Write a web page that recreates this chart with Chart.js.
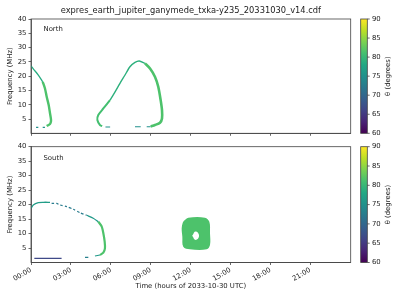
<!DOCTYPE html>
<html lang="en">
<head>
<meta charset="UTF-8">
<title>expres_earth_jupiter_ganymede_txka-y235_20331030_v14.cdf</title>
<style>
  html, body { margin: 0; padding: 0; background: #fff; }
  #wrap { position: relative; width: 400px; height: 300px; }
  #chartNorth, #chartSouth { position: absolute; left: 0; }
  #chartNorth { top: 0; }
  #chartSouth { top: 140px; }
</style>
<script src="https://cdn.jsdelivr.net/npm/chart.js"></script>
</head>
<body>
<div id="wrap">
  <canvas id="chartNorth" width="400" height="140"></canvas>
  <canvas id="chartSouth" width="400" height="160"></canvas>
</div>
<script>
// ---- data (time in hours of 2033-10-30, frequency in MHz, theta in degrees) ----
const titleText = 'expres_earth_jupiter_ganymede_txka-y235_20331030_v14.cdf';
const timeTicks = [0, 3, 6, 9, 12, 15, 18, 21];
const freqTicks = [5, 10, 15, 20, 25, 30, 35, 40];
const thetaTicks = [60, 65, 70, 75, 80, 85, 90];

// North hemisphere
const nTailTime = [0, 0.2, 0.55, 0.88];
const nTailFreq = [23.6, 22.4, 20.4, 18.0];
const nTailTheta = 78.5;
const nLegTime = [0.88, 1.05, 1.18, 1.33, 1.43, 1.5, 1.5, 1.43, 1.18];
const nLegFreq = [18.0, 15.7, 12.8, 9.9, 7.0, 5.0, 4.1, 3.25, 2.55];
const nLegTheta = 81.5;
const nDash1Time = [0.38, 0.55];
const nDash1Freq = [2.1, 2.1];
const nDash2Time = [0.88, 1.05];
const nDash2Freq = [2.1, 2.1];
const nDashTheta = 75;

const nRiseLowTime = [5.35, 5.19, 4.99, 5.06, 5.44, 5.94];
const nRiseLowFreq = [2.5, 2.9, 4.65, 6.4, 8.7, 11.6];
const nRiseLowTheta = 81;
const nRiseHighTime = [5.94, 6.32, 6.69, 7.07, 7.44, 7.82, 8.14, 8.57];
const nRiseHighFreq = [11.6, 14.5, 17.5, 20.4, 23.3, 24.8, 25.3, 24.5];
const nRiseHighTheta = 79;
const nFallTime = [8.57, 8.95, 9.32, 9.57, 9.75, 9.85, 9.85, 9.7, 9.32, 9.0];
const nFallFreq = [24.5, 22.7, 19.8, 16.3, 11.6, 8.1, 5.2, 3.7, 2.9, 2.4];
const nFallTheta = 81.5;
const nDash3Time = [5.6, 5.95];
const nDash3Freq = [2.2, 2.2];
const nDash4Time = [7.82, 8.25];
const nDash4Freq = [2.3, 2.3];
const nDash5Time = [8.7, 9.0];
const nDash5Freq = [2.3, 2.3];

// South hemisphere
const sTopTime = [0, 0.17, 0.55, 0.93, 1.43];
const sTopFreq = [18.7, 19.9, 20.7, 20.8, 20.8];
const sTopTheta = 76.5;
const sSlopeTime = [1.55, 1.93, 2.18, 2.68, 3.18, 3.68, 4.19];
const sSlopeFreq = [20.4, 20.4, 19.9, 19.3, 18.4, 17.2, 16.3];
const sSlopeTheta = 72.5;
const sShoulderTime = [4.19, 4.68, 5.06];
const sShoulderFreq = [16.3, 15.3, 14.1];
const sShoulderTheta = 76;
const sSideTime = [5.06, 5.32, 5.44, 5.54, 5.56, 5.44, 5.19];
const sSideFreq = [14.1, 12.4, 10.1, 7.2, 4.9, 3.4, 2.6];
const sSideTheta = 81.5;
const sFootTime = [5.19, 4.81];
const sFootFreq = [2.6, 2.25];
const sFootTheta = 76;
const sDashTime = [4.06, 4.31];
const sDashFreq = [1.8, 1.8];
const sDashTheta = 73;
const sLowTime = [0.25, 2.3];
const sLowFreq = [1.45, 1.45];
const sLowTheta = 66.5;

const sBlobTime = [11.5, 11.83, 13.08, 13.41, 13.46, 13.46, 13.21, 11.95, 11.45, 11.38, 11.33, 11.41, 11.5];
const sBlobFreq = [14.44, 15.48, 15.48, 14.1, 10.09, 6.05, 4.56, 4.56, 5.46, 8.91, 11.82, 13.75, 14.44];
const sBlobTheta = 81.5;
const sHoleTime = [12.12, 12.38, 12.64, 12.38, 12.12];
const sHoleFreq = [9.26, 10.7, 9.26, 7.8, 9.26];

// ---- colours ----
const VIRIDIS = ['#440154', '#482475', '#414487', '#355f8d', '#2a788e', '#21918c',
                 '#22a884', '#44bf70', '#7ad151', '#bddf26', '#fde725'];

function hexRgb(h) {
  return [parseInt(h.slice(1, 3), 16), parseInt(h.slice(3, 5), 16), parseInt(h.slice(5, 7), 16)];
}

function viridis(theta) {
  const p = Math.max(0, Math.min(1, (theta - 60) / 30)) * 10;
  const i = Math.min(9, Math.floor(p));
  const f = p - i;
  const a = hexRgb(VIRIDIS[i]), b = hexRgb(VIRIDIS[i + 1]);
  const c = a.map((v, k) => Math.round(v + (b[k] - v) * f));
  return `rgb(${c[0]}, ${c[1]}, ${c[2]})`;
}

const FONT = 'DejaVu Sans';
const INK = '#222';
const SPINE = '#444';

function serie(time, freq, color, width, extra) {
  return Object.assign({
    data: time.map((t, i) => ({ x: t, y: freq[i] })),
    showLine: true,
    borderColor: color,
    backgroundColor: color,
    borderWidth: width,
    pointRadius: 0,
    tension: 0.25,
    fill: false
  }, extra || {});
}

// frame, panel label, colorbar, title
const decorPlugin = {
  id: 'decor',
  afterDraw(chart, args, opts) {
    const { ctx, chartArea: a } = chart;
    ctx.save();
    ctx.strokeStyle = SPINE;
    ctx.lineWidth = 0.8;
    ctx.strokeRect(a.left, a.top, a.right - a.left, a.bottom - a.top);

    ctx.fillStyle = INK;
    ctx.font = `6.9px "${FONT}"`;
    ctx.textBaseline = 'middle';
    ctx.textAlign = 'left';
    ctx.fillText(opts.label, a.left + 12.5, a.top + opts.labelDy);

    if (opts.title) {
      ctx.font = `8.3px "${FONT}"`;
      ctx.textAlign = 'center';
      ctx.fillText(titleText, (a.left + a.right) / 2, 11);
    }

    // colorbar
    const x0 = a.right + 10, w = 6.6;
    const h = a.bottom - a.top;
    const g = ctx.createLinearGradient(0, a.bottom, 0, a.top);
    VIRIDIS.forEach((c, i) => g.addColorStop(i / 10, c));
    ctx.fillStyle = g;
    ctx.fillRect(x0, a.top, w, h);
    ctx.strokeRect(x0, a.top, w, h);
    ctx.font = `6.9px "${FONT}"`;
    ctx.textAlign = 'left';
    ctx.fillStyle = INK;
    thetaTicks.forEach(v => {
      const y = a.bottom - (v - 60) / 30 * h;
      ctx.beginPath();
      ctx.moveTo(x0 + w, y);
      ctx.lineTo(x0 + w + 2.4, y);
      ctx.stroke();
      ctx.fillText(String(v), x0 + w + 4.6, y);
    });
    ctx.translate(388, (a.top + a.bottom) / 2);
    ctx.rotate(-Math.PI / 2);
    ctx.textAlign = 'center';
    ctx.fillText('\u03b8 (degrees)', 0, 0);
    ctx.restore();
  }
};

function hourLabel(v) {
  return String(v).padStart(2, '0') + ':00';
}

function makeOptions(cfg) {
  return {
    responsive: false,
    animation: false,
    layout: { padding: { top: cfg.padTop, right: 49.3, left: 0, bottom: 0 } },
    plugins: {
      legend: { display: false },
      tooltip: { enabled: false },
      decor: { label: cfg.label, labelDy: cfg.labelDy, title: cfg.title }
    },
    scales: {
      x: {
        type: 'linear',
        min: 0,
        max: 24.04,
        afterBuildTicks: s => { s.ticks = timeTicks.map(v => ({ value: v })); },
        afterFit: s => { s.height = cfg.xHeight; },
        grid: { drawOnChartArea: false, tickLength: 2.5, color: SPINE, lineWidth: 0.8 },
        border: { color: SPINE, width: 0.8 },
        ticks: {
          display: cfg.xLabels,
          autoSkip: false,
          minRotation: 30,
          maxRotation: 30,
          padding: 1,
          color: INK,
          font: { family: FONT, size: 6.9 },
          callback: v => hourLabel(v)
        },
        title: {
          display: cfg.xLabels,
          text: 'Time (hours of 2033-10-30 UTC)',
          color: INK,
          font: { family: FONT, size: 6.9 },
          padding: { top: 0, bottom: 9.2 }
        }
      },
      y: {
        type: 'linear',
        min: 0,
        max: 40,
        afterBuildTicks: s => { s.ticks = freqTicks.map(v => ({ value: v })); },
        afterFit: s => { s.width = 31; },
        grid: { drawOnChartArea: false, tickLength: 2.5, color: SPINE, lineWidth: 0.8 },
        border: { color: SPINE, width: 0.8 },
        ticks: { padding: 2, color: INK, font: { family: FONT, size: 6.9 } },
        title: {
          display: true,
          text: 'Frequency (MHz)',
          color: INK,
          font: { family: FONT, size: 6.9 },
          padding: { top: 6, bottom: 0 }
        }
      }
    }
  };
}

const northSets = [
  serie(nTailTime, nTailFreq, viridis(nTailTheta), 1.3),
  serie(nLegTime, nLegFreq, viridis(nLegTheta), 2.4),
  serie(nDash1Time, nDash1Freq, viridis(nDashTheta), 1.2, { tension: 0 }),
  serie(nDash2Time, nDash2Freq, viridis(nDashTheta), 1.2, { tension: 0 }),
  serie(nRiseLowTime, nRiseLowFreq, viridis(nRiseLowTheta), 2.0),
  serie(nRiseHighTime, nRiseHighFreq, viridis(nRiseHighTheta), 1.4),
  serie(nFallTime, nFallFreq, viridis(nFallTheta), 2.6),
  serie(nDash3Time, nDash3Freq, viridis(nDashTheta), 1.2, { tension: 0 }),
  serie(nDash4Time, nDash4Freq, viridis(nDashTheta), 1.2, { tension: 0 }),
  serie(nDash5Time, nDash5Freq, viridis(nDashTheta), 1.2, { tension: 0 })
];

// the filler paints the last dataset first, so the hole sits before the blob
const southSets = [
  serie(sTopTime, sTopFreq, viridis(sTopTheta), 1.3),
  serie(sSlopeTime, sSlopeFreq, viridis(sSlopeTheta), 1.2, { borderDash: [2.5, 2], tension: 0.2 }),
  serie(sShoulderTime, sShoulderFreq, viridis(sShoulderTheta), 1.2),
  serie(sSideTime, sSideFreq, viridis(sSideTheta), 2.2),
  serie(sFootTime, sFootFreq, viridis(sFootTheta), 1.2, { tension: 0 }),
  serie(sDashTime, sDashFreq, viridis(sDashTheta), 1.2, { tension: 0 }),
  serie(sLowTime, sLowFreq, viridis(sLowTheta), 1.3, { tension: 0 }),
  serie(sHoleTime, sHoleFreq, '#ffffff', 0, { fill: 'shape', tension: 0.5 }),
  serie(sBlobTime, sBlobFreq, viridis(sBlobTheta), 0, { fill: 'shape', tension: 0.35 })
];

new Chart(document.getElementById('chartNorth'), {
  type: 'scatter',
  data: { datasets: northSets },
  options: makeOptions({ padTop: 19, xHeight: 6.7, xLabels: false, label: 'North', labelDy: 10.3, title: true }),
  plugins: [decorPlugin]
});

new Chart(document.getElementById('chartSouth'), {
  type: 'scatter',
  data: { datasets: southSets },
  options: makeOptions({ padTop: 6.7, xHeight: 37.5, xLabels: true, label: 'South', labelDy: 11.6, title: false }),
  plugins: [decorPlugin]
});
</script>
</body>
</html>
